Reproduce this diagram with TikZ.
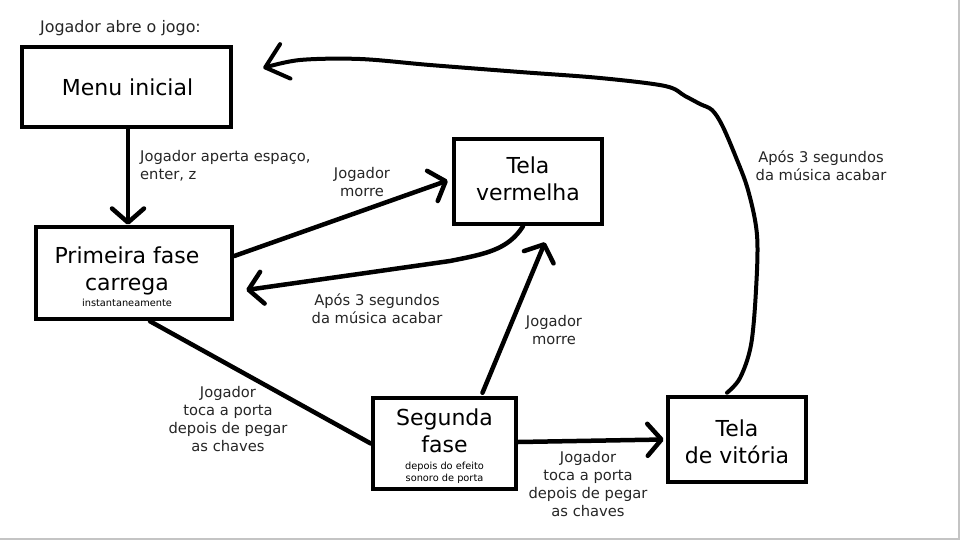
\documentclass[tikz,border=0pt]{standalone}
\usepackage{fontspec}
\setmainfont{DejaVu Sans}
\usetikzlibrary{arrows.meta}
\definecolor{labelgray}{HTML}{262626}
\definecolor{framegray}{HTML}{C4C4C4}
\tikzset{
  box/.style={draw=black, line width=4.5pt, align=center, inner sep=0pt,
    font=\fontsize{22}{27}\selectfont},
  boxtxt/.style={align=center, inner sep=0pt, font=\fontsize{22}{27}\selectfont},
  conn/.style={line width=4.5pt, line cap=round, line join=round},
  tipA/.tip={Straight Barb[length=14pt,width=32pt,round]},
  tipB/.tip={Straight Barb[length=21pt,width=36pt,round]},
  lbl/.style={align=center, inner sep=0pt, text=labelgray,
    font=\fontsize{14.7}{18}\selectfont},
}
\begin{document}
\begin{tikzpicture}[x=1pt,y=-1pt]
\useasboundingbox (0,0) rectangle (960,540);
\fill[white] (0,0) rectangle (960,540);
\draw[framegray, line width=2pt] (0,539) -- (959,539) -- (959,0);

% boxes
\node[box, minimum width=209pt, minimum height=80pt] (menu) at (126.5,87)
  {\hspace*{2pt}Menu inicial};
\node[box, minimum width=196pt, minimum height=92pt,
  label={[boxtxt, name=primt, xshift=-7pt, yshift=-4pt]center:Primeira fase\\carrega\\[-11pt]{\fontsize{9.8}{12}\selectfont instantaneamente}}]
  (prim) at (134,273) {};
\node[box, minimum width=148pt, minimum height=85pt,
  label={[boxtxt, name=telat, yshift=3pt]center:Tela\\vermelha}]
  (tela) at (528,181.5) {};
\node[box, minimum width=143pt, minimum height=91pt,
  label={[boxtxt, name=segt, yshift=-3pt]center:Segunda\\fase\\[-10pt]{\fontsize{9.8}{12}\selectfont depois do efeito}\\[-15pt]{\fontsize{9.8}{12}\selectfont sonoro de porta}}]
  (seg) at (444.5,443.5) {};
\node[box, minimum width=138pt, minimum height=85pt,
  label={[boxtxt, name=vitt, yshift=-2pt]center:Tela\\de vitória}]
  (vit) at (737,439.5) {};

% labels
\node[lbl, anchor=west, align=left] (l1) at (140,166) {Jogador aperta espaço,\\enter, z};
\node[lbl] (l2) at (362,182) {Jogador\\morre};
\node[lbl] (l3) at (377,309) {Após 3 segundos\\da música acabar};
\node[lbl] (l4) at (554,330) {Jogador\\morre};
\node[lbl] (l5) at (228,419) {Jogador\\toca a porta\\depois de pegar\\as chaves};
\node[lbl] (l6) at (588,484) {Jogador\\toca a porta\\depois de pegar\\as chaves};
\node[lbl] (l7) at (821,166) {Após 3 segundos\\da música acabar};
\node[lbl, anchor=west, font=\fontsize{15.9}{19}\selectfont] (title) at (40,28) {Jogador abre o jogo:};

% connectors
\draw[conn, -{tipA}] ([xshift=1.5pt]menu.south) -- ([xshift=1.5pt]menu.south |- prim.north);
\draw[conn, -{tipA}] ([yshift=17pt]prim.east) -- ([xshift=-4pt,yshift=1pt]tela.west);
\draw[conn, -{tipA}] ([xshift=-5pt]tela.south) .. controls (508,250) and (485,254) .. (450,261)
  -- ([xshift=12pt,yshift=-17pt]prim.east);
\draw[conn, -{tipA}] ([xshift=38pt,yshift=3pt]seg.north) -- ([xshift=17pt,yshift=-16pt]tela.south);
\draw[conn] ([xshift=16pt]prim.south) -- (seg.west);
\draw[conn, -{tipA}] ([yshift=1.5pt]seg.east) -- ([xshift=-2pt]vit.west);
\coordinate (back) at ([xshift=30pt,yshift=19pt]menu.east);
\draw[conn, line width=4pt, -{tipB}] plot[smooth, tension=0.55] coordinates {([xshift=-10pt,yshift=2pt]vit.north) (740,378) (751,345) (756,290) (757,235) (748,190) (735,155) (722,125) (712,110) (700,104) (685,96) (665,86) (600,78) (520,72) (430,65) (360,59) (300,60) (back)};
\end{tikzpicture}
\end{document}
